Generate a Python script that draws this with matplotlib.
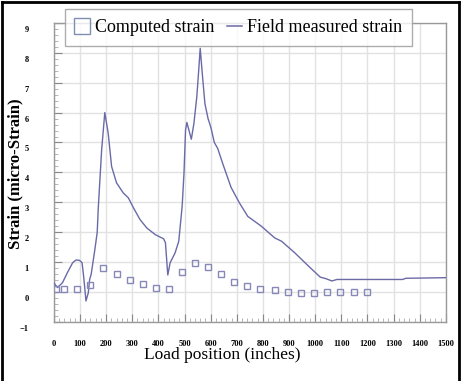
import matplotlib
matplotlib.use("Agg")
import matplotlib.pyplot as plt
import matplotlib.transforms as mtransforms
from matplotlib.lines import Line2D
from matplotlib.ticker import MultipleLocator

plt.rcParams['font.family'] = ['Liberation Serif', 'DejaVu Serif']

# Field measured strain
field_x = [0, 14, 33, 52, 72, 85, 98, 108, 114, 123, 132, 137, 143, 157, 166, 170,
           183, 195, 208, 221, 240, 266, 285, 305, 330, 356, 388, 420, 427, 436,
           445, 464, 478, 491, 498, 504, 509, 526, 536, 547, 555, 560, 568, 578,
           590, 601, 614, 627, 646, 678, 710, 742, 794, 845, 871, 922, 974, 1019,
           1040, 1064, 1083, 1200, 1334, 1347, 1500]
field_y = [0.31, 0.15, 0.31, 0.65, 0.98, 1.07, 1.06, 0.98, 0.53, -0.30, -0.02, 0.42, 0.60, 1.42, 2.00, 2.80,
           4.76, 6.00, 5.31, 4.20, 3.65, 3.31, 3.15, 2.81, 2.42, 2.14, 1.92, 1.78, 1.65, 0.57,
           0.98, 1.31, 1.70, 2.87, 3.98, 5.42, 5.67, 5.11, 5.64, 6.53, 7.50, 8.15, 7.30, 6.30,
           5.80, 5.50, 5.00, 4.80, 4.30, 3.50, 2.98, 2.53, 2.20, 1.81, 1.70, 1.31, 0.87, 0.50,
           0.45, 0.37, 0.42, 0.42, 0.42, 0.46, 0.48]

# Computed strain
comp_x = [10, 40, 90, 140, 190, 240, 290, 340, 390, 440, 490, 540, 590, 640, 690,
          740, 790, 845, 895, 945, 995, 1045, 1095, 1150, 1200]
comp_y = [0.09, 0.09, 0.11, 0.22, 0.81, 0.59, 0.40, 0.26, 0.15, 0.09, 0.68, 0.96, 0.85,
          0.59, 0.35, 0.20, 0.11, 0.06, 0.00, -0.02, -0.02, 0.01, 0.01, 0.01, 0.01]

x_ticks = list(range(0, 1600, 100))
y_ticks = list(range(-1, 10))

line_col = '#6a6aa8'
sq_col = '#8888b8'

fig = plt.figure(figsize=(4.64, 3.81), dpi=100)
ax = fig.add_axes([0.116, 0.155, 0.845, 0.785])

ax.plot(field_x, field_y, color=line_col, lw=1.0, label='Field measured strain', zorder=3)
ax.plot(comp_x, comp_y, ls='none', marker='s', ms=5, mfc='none', mec=sq_col, mew=1.0,
        label='Computed strain', zorder=4)

ax.set_xlim(0, 1500)
ax.set_ylim(-1, 9)
ax.set_xticks(x_ticks)
ax.set_yticks(y_ticks)
ax.xaxis.set_minor_locator(MultipleLocator(20))
ax.yaxis.set_minor_locator(MultipleLocator(0.2))
ax.grid(True, which='major', color='#e2e2e2', lw=1.0)
ax.set_axisbelow(True)
ax.tick_params(which='major', direction='in', length=6, color='#888888', labelsize=6,
               top=False, right=False)
ax.tick_params(which='minor', direction='in', length=3, color='#aaaaaa', top=False, right=False)
ax.tick_params(axis='x', pad=13)
ax.tick_params(axis='y', pad=18)
for lab in ax.get_xticklabels() + ax.get_yticklabels():
    lab.set_fontweight('bold')
off = mtransforms.ScaledTranslation(0, -6 / 100, fig.dpi_scale_trans)
for lab in ax.get_yticklabels():
    lab.set_transform(lab.get_transform() + off)
for s in ax.spines.values():
    s.set_color('#999999')
    s.set_linewidth(1.0)

fig.text(0.034, 0.545, 'Strain (micro-Strain)', fontsize=12, fontweight='bold',
         rotation=90, ha='center', va='center')
fig.text(0.478, 0.068, 'Load position (inches)', fontsize=12.5, ha='center', va='center')

handles = [Line2D([], [], ls='none', marker='s', ms=12, mfc='none', mec='#7f8fb0', mew=1.0),
           Line2D([], [], color=line_col, lw=1.1)]
leg = fig.legend(handles, ['Computed strain', 'Field measured strain'], ncol=2,
                 loc='center', bbox_to_anchor=(0.14, 0.874, 0.748, 0.108),
                 mode='expand', fontsize=13, frameon=True, fancybox=False,
                 edgecolor='#999999', handlelength=0.8, handletextpad=0.3,
                 columnspacing=0.9, borderpad=0.55, borderaxespad=0)
leg.get_frame().set_linewidth(1.0)

# outer frame of the picture
for xs, ys in [([0.005, 0.005], [0, 0.995]), ([0.005, 0.99], [0.995, 0.995]),
               ([0.99, 0.99], [0, 0.995])]:
    fig.add_artist(Line2D(xs, ys, color='black', lw=2, transform=fig.transFigure))

fig.savefig('out.png', dpi=100)
